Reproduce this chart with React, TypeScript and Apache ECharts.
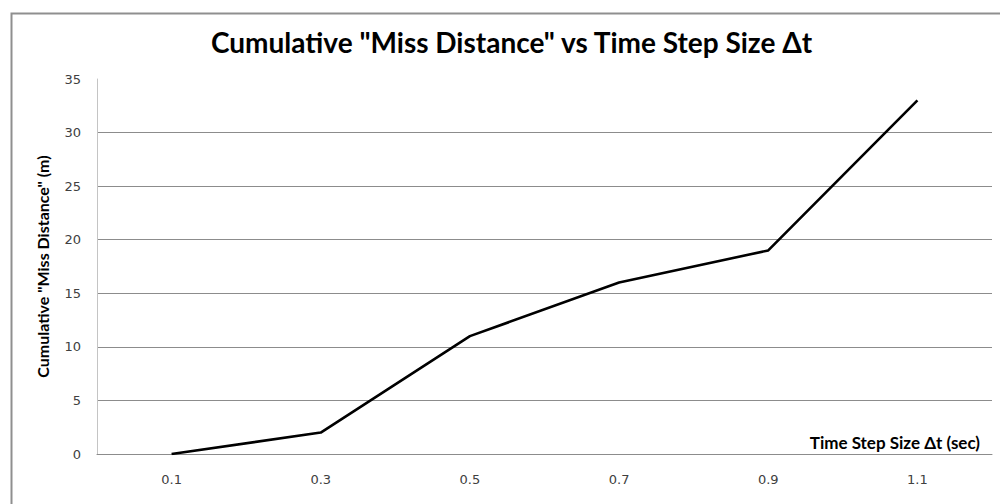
import React, { useEffect, useRef } from "react";
import * as echarts from "echarts";

const xValues = [0.1, 0.3, 0.5, 0.7, 0.9, 1.1];
const missDistance = [0, 2, 11, 16, 19, 33];
const xTickLabels = ["0.1", "0.3", "0.5", "0.7", "0.9", "1.1"];
const yTickLabels = ["0", "5", "10", "15", "20", "25", "30", "35"];

const titleText = 'Cumulative "Miss Distance" vs Time Step Size \u0394t';
const yName = 'Cumulative "Miss Distance" (m)';
const xName = "Time Step Size \u0394t (sec)";

export default function App() {
  const ref = useRef<HTMLDivElement>(null);
  useEffect(() => {
    if (!ref.current) return;
    const chart = echarts.init(ref.current, undefined, { renderer: "svg" });
    chart.setOption({
      animation: false,
      backgroundColor: "#ffffff",
      title: {
        text: titleText,
        left: 206,
        top: 23,
        textStyle: { fontFamily: "Lato", fontWeight: "bold", fontSize: 28, color: "#000" },
      },
      grid: { left: 97, right: 8, top: 79, bottom: 50, containLabel: false },
      xAxis: {
        type: "value",
        min: 0,
        max: 1.2,
        interval: 0.1,
        name: xName,
        nameLocation: "end",
        nameGap: -12,
        nameTextStyle: {
          fontFamily: "Lato",
          fontWeight: "bold",
          fontSize: 17,
          color: "#000",
          align: "right",
          verticalAlign: "bottom",
          padding: [0, 0, 3, 0],
        },
        axisLine: { show: true, lineStyle: { color: "#8c8c8c", width: 1 } },
        axisTick: { show: false },
        splitLine: { show: false },
        axisLabel: {
          margin: 19,
          fontFamily: "DejaVu Sans",
          fontSize: 13,
          color: "#404040",
          showMinLabel: true,
          showMaxLabel: true,
          formatter: (v: number) => {
            const s = v.toFixed(1);
            return xTickLabels.includes(s) ? s : "";
          },
        },
      },
      yAxis: {
        type: "value",
        min: 0,
        max: 35,
        interval: 5,
        name: yName,
        nameLocation: "middle",
        nameGap: 47,
        nameTextStyle: { fontFamily: "Lato", fontWeight: "bold", fontSize: 16, color: "#000" },
        axisLine: { show: true, lineStyle: { color: "#c4c4c4", width: 1 } },
        axisTick: { show: false },
        splitLine: { show: true, showMaxLine: false, lineStyle: { color: "#8c8c8c", width: 1 } },
        axisLabel: {
          margin: 16,
          fontFamily: "DejaVu Sans",
          fontSize: 13,
          color: "#404040",
          formatter: (v: number) => {
            const s = String(Math.round(v));
            return yTickLabels.includes(s) ? s : "";
          },
        },
      },
      graphic: [
        {
          type: "rect",
          left: 9,
          top: 11,
          shape: { x: 0, y: 0, width: 1010, height: 510 },
          style: { fill: "none", stroke: "#8f8f8f", lineWidth: 2 },
          silent: true,
        },
      ],
      series: [
        {
          type: "line",
          data: xValues.map((x, i) => [x, missDistance[i]]),
          showSymbol: false,
          symbol: "none",
          lineStyle: { color: "#000", width: 2.6 },
          z: 5,
        },
      ],
    });
    return () => chart.dispose();
  }, []);
  return (
    <div
      ref={ref}
      style={{ position: "fixed", left: 0, top: 0, width: 1000, height: 504 }}
    />
  );
}
